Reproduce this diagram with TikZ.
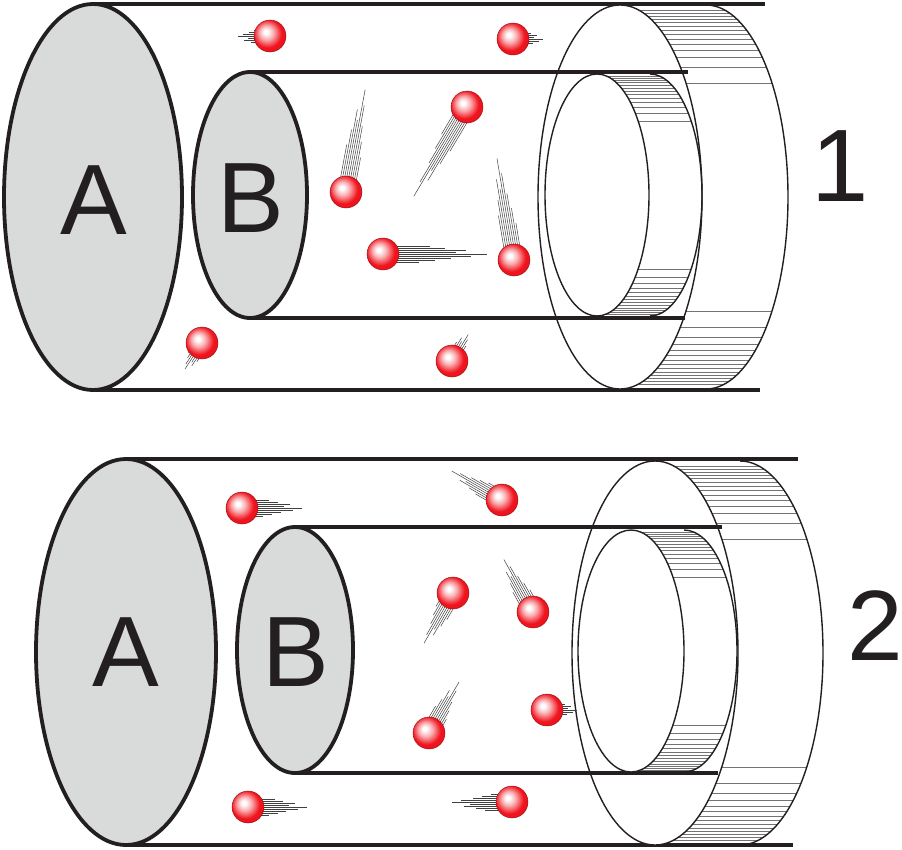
\documentclass[tikz,border=0pt]{standalone}
\usepackage{fontspec}
\setmainfont{Liberation Sans}
\definecolor{ink}{HTML}{231F20}
\definecolor{disk}{HTML}{D9DADA}
\definecolor{ballred}{HTML}{F0141E}
\pgfdeclareradialshading{redball}{\pgfpoint{-7bp}{7bp}}{color(0bp)=(white); color(3bp)=(white); color(11bp)=(ballred!35!white); color(22bp)=(ballred); color(42bp)=(ballred!92!black); color(50bp)=(ballred!72!black)}
\tikzset{
  tube/.style={ink, line width=3.8pt},
  disc/.style={draw=ink, fill=disk, line width=3.8pt},
  ringline/.style={ink, line width=1.4pt},
  hatchline/.style={black!55, line width=0.45pt},
  trailline/.style={black!75, line width=0.5pt},
  lbl/.style={inner sep=0pt, text=ink, font=\fontsize{100}{100}\selectfont},
}
% cx cy rx ry shift offsets
\newcommand\drawhatch[6]{%
  \foreach \o in {#6} {
    \pgfmathsetmacro\s{#3*sqrt(1-(1-\o/#4)^2)}
    \draw[hatchline] (#1+\s, #2-#4+\o) -- ++(#5,0);
    \draw[hatchline] (#1+\s, #2+#4-\o) -- ++(#5,0);
  }}
\newcommand\drawring[6]{%
  \drawhatch{#1}{#2}{#3}{#4}{#5}{#6}
  \begin{scope}
    \clip (#1+#5, #2-#4-5) rectangle (#1+#5+#3+5, #2+#4+5);
    \draw[ringline] (#1+#5,#2) ellipse[x radius=#3, y radius=#4];
  \end{scope}
  \draw[ringline, fill=white] (#1,#2) ellipse[x radius=#3, y radius=#4];
}
\newcommand\drawtrail[4]{%
  \begin{scope}[shift={(#1,#2)}, rotate=#3]
    \foreach \o/\f in {-8/0.45,-6/0.6,-4/0.8,-2/0.7,0/1,2/0.85,4/0.65,6/0.5,8/0.35}
      \draw[trailline] (0,\o) -- (\f*#4,\o);
  \end{scope}}
\newcommand\drawball[2]{%
  \shade[shading=redball] (#1,#2) circle[radius=16];
  \draw[ballred!60!black, line width=0.4pt] (#1,#2) circle[radius=16];}
\newcommand\drawparticle[4]{\drawtrail{#1}{#2}{#3}{#4}\drawball{#1}{#2}}
\begin{document}
\begin{tikzpicture}[x=1pt, y=-1pt]
\useasboundingbox (0,0) rectangle (902,849);
% ---------- assembly 1 ----------
\draw[tube] (93,4) -- (765,4);
\draw[tube] (93,390) -- (760,390);
\draw[disc] (93,197) ellipse[x radius=89, y radius=193];
\drawring{620}{197}{82}{192}{86}{5,8,11,14,17,21,25,29,34,39,45,52,62,78}
\draw[tube] (250,72) -- (688,72);
\draw[tube] (250,318) -- (685,318);
\draw[disc] (250,195) ellipse[x radius=57, y radius=123];
\drawring{597}{195}{52}{121}{53}{2,4,6,8,11,14,17,20,24,28,33,39,47}
\node[lbl] (A1) at (94,200) {A};
\node[lbl] (B1) at (251,198) {B};
\node[lbl, font=\fontsize{103}{103}\selectfont] (n1) at (840,166) {1};
\drawparticle{270}{36}{180}{32}
\drawparticle{513}{39}{0}{30}
\drawparticle{346}{192}{79.4}{104}
\drawparticle{467}{107}{239.2}{104}
\drawparticle{383}{254}{0}{104}
\drawparticle{514}{260}{99.5}{103}
\drawparticle{202}{343}{236.8}{31}
\drawparticle{452}{361}{58.4}{31}
% ---------- assembly 2 ----------
\draw[tube] (126,459) -- (798,459);
\draw[tube] (126,845) -- (793,845);
\draw[disc] (126,652) ellipse[x radius=90, y radius=193];
\drawring{655}{653}{83}{192}{85}{5,8,11,14,17,21,25,29,34,39,45,52,62,78}
\draw[tube] (295,527) -- (722,527);
\draw[tube] (295,773) -- (718,773);
\draw[disc] (295,650) ellipse[x radius=58, y radius=123];
\drawring{631}{651}{53}{121}{53}{2,4,6,8,11,14,17,20,24,28,33,39,47}
\node[lbl] (A2) at (126,652) {A};
\node[lbl] (B2) at (296,652) {B};
\node[lbl] (n2) at (875,626) {2};
\drawparticle{242}{508}{0}{60}
\drawparticle{502}{500}{150}{58}
\drawparticle{453}{593}{240}{58}
\drawparticle{533}{612}{119}{60}
\drawparticle{429}{733}{59.5}{59}
\drawparticle{547}{710}{0}{30}
\drawparticle{248}{807}{0}{59}
\drawparticle{512}{802}{180}{60}
\end{tikzpicture}
\end{document}
